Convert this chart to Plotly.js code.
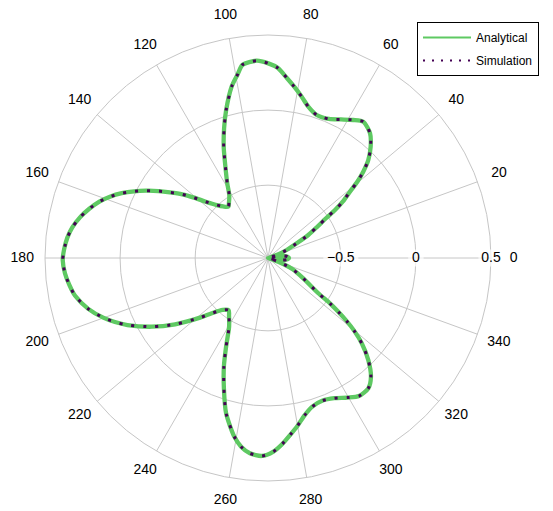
<!DOCTYPE html>
<html>
<head>
<meta charset="utf-8">
<script src="https://cdn.plot.ly/plotly-3.0.1.min.js"></script>
<style>html,body{margin:0;padding:0;background:#fff;}#chart{width:553px;height:511px;}</style>
</head>
<body>
<div id="chart"></div>
<script>
// Angles (degrees) and normalised pattern values
const thetaDeg = [0, 4, 8, 11, 14, 17, 19, 23.2, 27.1, 29.7, 32.4, 34.4, 35.6, 37, 39, 40.5, 42.2, 44.3, 47.3, 50.7,
  55, 58.3, 62.2, 66.3, 71.2, 75.1, 78.2, 81.3, 84.1, 87.1, 89.9, 93.3, 97.5, 99.5, 102, 105.8, 108.7, 111.7, 114.4,
  118.6, 121.6, 125, 127.7, 131, 134.1, 137.9, 140.8, 143.4, 146.2, 148.6, 151.1, 153.5, 156.1, 158.8, 161.5, 164.7,
  167.8, 171.1, 174.2, 177.6, 180.6, 184.3, 187.7, 191.1, 195.8, 199.9, 202.7, 205.5, 210.6, 215.5, 221.3, 224.5,
  228.9, 233, 236, 240.5, 244.7, 247.9, 251.3, 254.9, 259.3, 261.9, 264.7, 268.2, 271.6, 274.4, 277.1, 280, 283,
  286.6, 291, 295.3, 299.6, 303.4, 307.6, 310.9, 314.5, 317.7, 319.8, 321.3, 322.6, 323.8, 325, 330, 335.4, 338.6,
  342, 345, 348, 352, 356, 360];
const rAnalytical = [-0.845, -0.855, -0.885, -0.94, -0.985, -0.96, -0.92, -0.85, -0.77, -0.676, -0.596, -0.517, -0.436,
  -0.362, -0.283, -0.203, -0.129, -0.052, 0.023, 0.088, 0.122, 0.095, 0.058, 0.026, 0.021, 0.058, 0.112, 0.169, 0.222,
  0.283, 0.311, 0.331, 0.313, 0.251, 0.181, 0.039, -0.073, -0.187, -0.293, -0.418, -0.493, -0.532, -0.553, -0.53, -0.494,
  -0.426, -0.349, -0.274, -0.199, -0.129, -0.058, 0.010, 0.080, 0.144, 0.199, 0.251, 0.296, 0.334, 0.358, 0.374, 0.382,
  0.371, 0.350, 0.324, 0.259, 0.182, 0.12, 0.052, -0.086, -0.225, -0.383, -0.460, -0.526, -0.55, -0.521, -0.459, -0.332,
  -0.204, -0.069, 0.086, 0.225, 0.284, 0.321, 0.334, 0.305, 0.257, 0.203, 0.149, 0.092, 0.048, 0.032, 0.048, 0.084,
  0.116, 0.110, 0.062, -0.032, -0.141, -0.233, -0.314, -0.396, -0.474, -0.576, -0.714, -0.804, -0.876, -0.95, -0.985,
  -0.94, -0.885, -0.855, -0.845];
// Simulation samples coincide with the analytical curve in the reference
const rSimulation = rAnalytical;

const seriesNames = ['Analytical', 'Simulation'];
const angularTicks = [0, 20, 40, 60, 80, 100, 120, 140, 160, 180, 200, 220, 240, 260, 280, 300, 320, 340];
const angularTickText = angularTicks.map(String);
const radialTicks = [-0.5, 0, 0.5];
const radialTickText = ['\u22120.5', '0', '0.5'];

const FONT = 'Arial, "Liberation Sans", sans-serif';
const GRID = '#c6c6c6';
const GREEN = '#5ec962';
const PURPLE = '#440154';

const traces = [
  {
    type: 'scatterpolar', subplot: 'polar', name: seriesNames[0], legendgroup: 'a', showlegend: false,
    theta: thetaDeg, r: rAnalytical, mode: 'lines',
    line: {color: GREEN, width: 4.3, shape: 'spline', smoothing: 0.7},
    hoverinfo: 'skip'
  },
  {
    type: 'scatterpolar', subplot: 'polar', name: seriesNames[1], legendgroup: 'b', showlegend: false,
    theta: thetaDeg, r: rSimulation, mode: 'lines',
    line: {color: PURPLE, width: 3, dash: '3px,9px', shape: 'spline', smoothing: 0.7},
    hoverinfo: 'skip'
  },
  // legend keys (thin line samples, as in the reference legend)
  {
    type: 'scatterpolar', subplot: 'polar', name: seriesNames[0], legendgroup: 'a', showlegend: true,
    theta: [null], r: [null], mode: 'lines',
    line: {color: GREEN, width: 2}, hoverinfo: 'skip'
  },
  {
    type: 'scatterpolar', subplot: 'polar', name: seriesNames[1], legendgroup: 'b', showlegend: true,
    theta: [null], r: [null], mode: 'lines',
    line: {color: PURPLE, width: 2, dash: '2px,7px'}, hoverinfo: 'skip'
  },
  {
    type: 'scatterpolar', subplot: 'polar', showlegend: false,
    theta: radialTicks.map(function(){return 0;}), r: radialTicks,
    mode: 'markers+text', text: radialTickText, textposition: 'middle center',
    textfont: {family: FONT, size: 14, color: '#000'},
    marker: {symbol: 'line-ew', size: [25, 11, 18], color: '#fff', line: {color: '#fff', width: 17}},
    cliponaxis: false, hoverinfo: 'skip'
  },
  {
    type: 'scatterpolar', subplot: 'polar2', showlegend: false,
    theta: angularTicks, r: angularTicks.map(function(){return 1;}),
    mode: 'text', text: angularTickText, textposition: 'middle center',
    textfont: {family: FONT, size: 14, color: '#000'},
    cliponaxis: false, hoverinfo: 'skip'
  }
];

const dom = [23/492, 469/492];
const layout = {
  width: 553, height: 511,
  margin: {l: 22, r: 39, t: 12, b: 7, pad: 0},
  paper_bgcolor: '#fff', plot_bgcolor: '#fff',
  font: {family: FONT, size: 12, color: '#000'},
  showlegend: true,
  legend: {
    x: 395/492, y: 482/492, xanchor: 'left', yanchor: 'top',
    bgcolor: '#fff', bordercolor: '#000', borderwidth: 1,
    font: {family: FONT, size: 12, color: '#000'},
    itemwidth: 48, tracegroupgap: 4
  },
  polar: {
    domain: {x: dom, y: dom},
    bgcolor: '#fff',
    radialaxis: {
      range: [-0.985, 0.5], tickvals: radialTicks, showticklabels: false,
      showline: false, ticks: '', gridcolor: GRID, gridwidth: 1, layer: 'below traces', angle: 0
    },
    angularaxis: {
      tickmode: 'array', tickvals: angularTicks, showticklabels: false, ticks: '',
      gridcolor: GRID, gridwidth: 1, showline: true, linecolor: GRID, linewidth: 1,
      layer: 'below traces', rotation: 0, direction: 'counterclockwise'
    }
  },
  polar2: {
    domain: {x: [0, 1], y: [0, 1]},
    bgcolor: 'rgba(0,0,0,0)',
    radialaxis: {visible: false, range: [0, 1.001]},
    angularaxis: {visible: false, rotation: 0, direction: 'counterclockwise', showgrid: false, showline: false}
  }
};

Plotly.newPlot('chart', traces, layout, {staticPlot: true, displayModeBar: false});
</script>
</body>
</html>
